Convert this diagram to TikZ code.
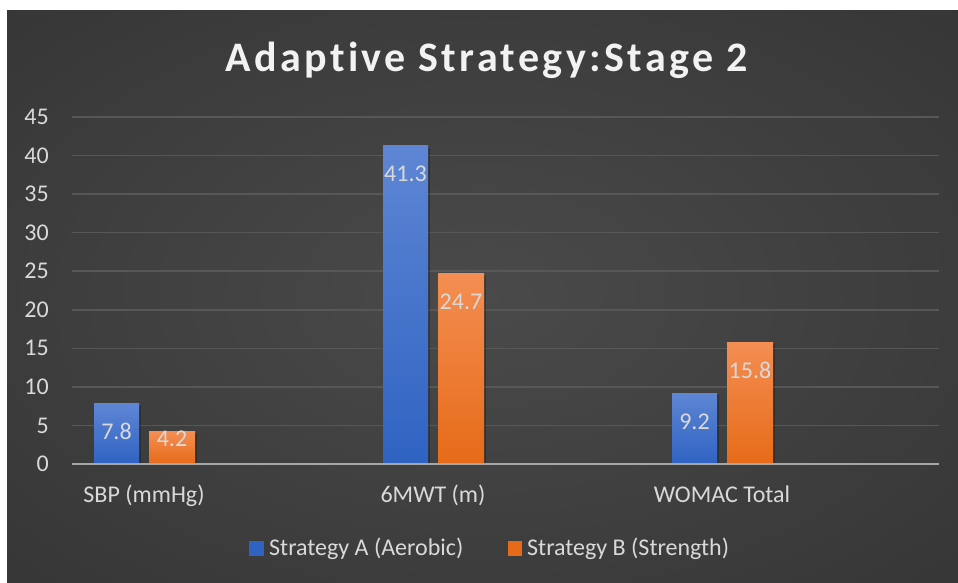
\documentclass[tikz,border=0pt]{standalone}
\usepackage{fontspec}
\setmainfont{Carlito}[Ligatures=NoCommon]
\usepackage{tikz}
\usetikzlibrary{positioning}

\definecolor{bgmid}{HTML}{4A4A4A}
\definecolor{bgedge}{HTML}{222222}
\definecolor{gridgray}{HTML}{575757}
\definecolor{axisgray}{HTML}{A6A6A6}
\definecolor{labelgray}{HTML}{D9D9D9}
\definecolor{titlewhite}{HTML}{F2F2F2}
\definecolor{blueTop}{HTML}{5E86D4}
\definecolor{blueBot}{HTML}{2F63C2}
\definecolor{orangeTop}{HTML}{F48E52}
\definecolor{orangeBot}{HTML}{E66B18}
\pgfdeclareradialshading{chartbg}{\pgfpoint{0bp}{0bp}}{color(0bp)=(bgmid); color(72bp)=(bgedge)}

\begin{document}
\begin{tikzpicture}[x=1pt, y=1pt,
    chartfont/.style={text=labelgray, font=\fontsize{24}{28}\selectfont, inner sep=0pt},
    ticklabel/.style={chartfont, anchor=east},
    catlabel/.style={chartfont, anchor=base},
    vallabel/.style={chartfont, anchor=base},
    barA/.style={top color=blueTop, bottom color=blueBot},
    barB/.style={top color=orangeTop, bottom color=orangeBot},
    barshadow/.style={fill=black, opacity=0.25}]
    \useasboundingbox (0,0) rectangle (958,583);

    % Chart background
    \shade[shading=chartbg] (7,0) rectangle (958,572);

    % Title
    \node[text=titlewhite, anchor=base, inner sep=0pt,
          font=\fontsize{42}{48}\bfseries\addfontfeature{LetterSpace=8}\selectfont]
        (title) at (486.5,511) {Adaptive Strategy:Stage 2};

    % Gridlines and tick labels
    \foreach \v in {5,10,...,45} {
        \draw[gridgray, line width=1.5pt] (72,119+7.711*\v) -- (939,119+7.711*\v);
    }
    \foreach \v in {0,5,...,45} {
        \node[ticklabel] (tick\v) at (49,119+7.711*\v) {\v};
    }
    \coordinate (axisL) at (72,119);
    \coordinate (axisR) at (939,119);

    % Bars: centre / Strategy A / Strategy B / category
    \foreach \c/\a/\b/\cat [count=\i] in {144/7.8/4.2/SBP (mmHg),
                                          433/41.3/24.7/6MWT (m),
                                          722/9.2/15.8/WOMAC Total} {
        \pgfmathsetmacro\ya{max(83+7.711*\a,136)}
        \pgfmathsetmacro\yb{max(83+7.711*\b,136)}
        \fill[barshadow] (\c-48,119) rectangle (\c-3,117+7.711*\a);
        \fill[barshadow] (\c+7,119) rectangle (\c+53,117+7.711*\b);
        \shade[barA] (\c-50,119) rectangle (\c-5,119+7.711*\a);
        \shade[barB] (\c+5,119) rectangle (\c+51,119+7.711*\b);
        \node[vallabel] (valA\i) at (\c-27.5,\ya) {\a};
        \node[vallabel] (valB\i) at (\c+28,\yb) {\b};
        \node[catlabel] (cat\i) at (\c,80) {\cat};
    }

    % Horizontal axis
    \draw[axisgray, line width=2pt] (axisL) -- (axisR);

    % Legend
    \fill[blueBot] (249,27) rectangle (264,42);
    \node[chartfont, anchor=base west] (legA) at (269,27) {Strategy A (Aerobic)};
    \fill[orangeBot] (508,27) rectangle (522,42);
    \node[chartfont, anchor=base west] (legB) at (527,27) {Strategy B (Strength)};
\end{tikzpicture}
\end{document}
